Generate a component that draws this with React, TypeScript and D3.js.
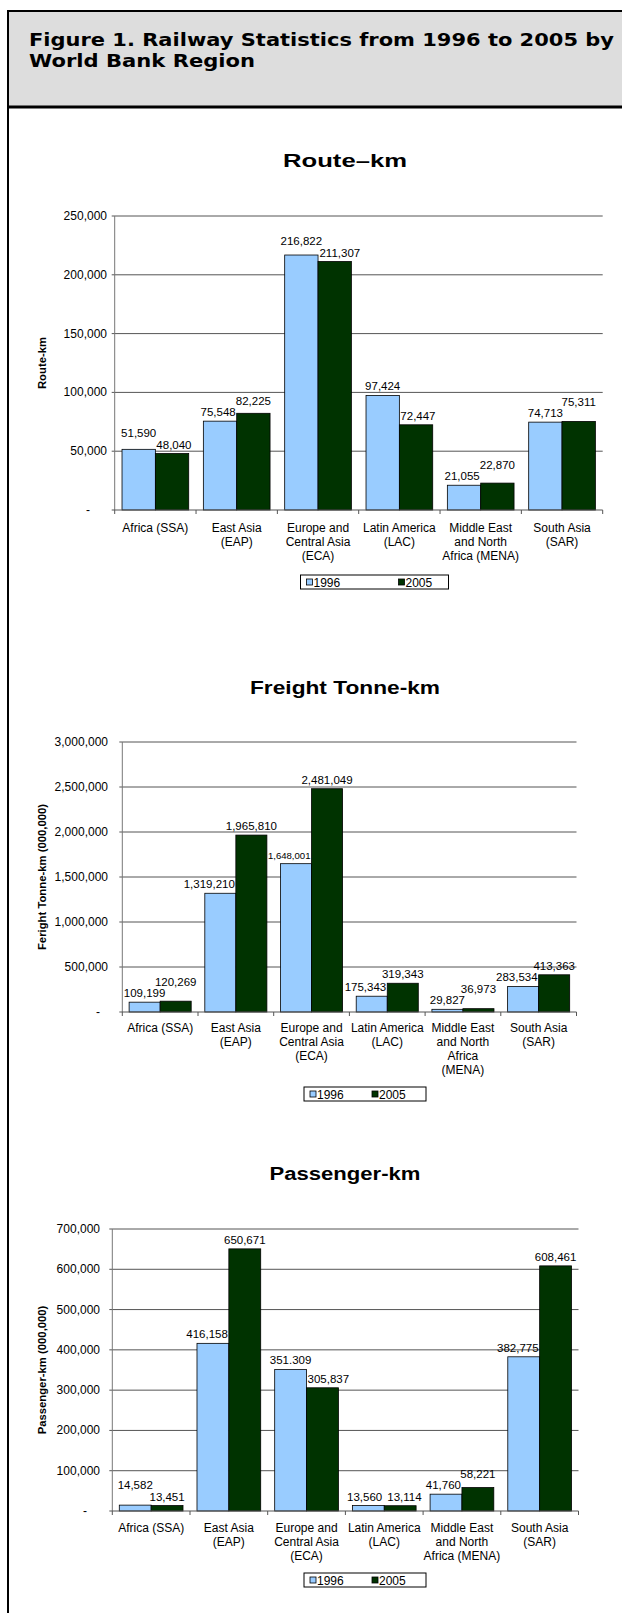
import * as d3 from 'd3';

// regions, in the order the charts show them
const categories = [
  'Africa (SSA)',
  'East Asia (EAP)',
  'Europe and Central Asia (ECA)',
  'Latin America (LAC)',
  'Middle East and North Africa (MENA)',
  'South Asia (SAR)',
];

// how each chart wraps the category names
const catLinesA = [
  ['Africa (SSA)'],
  ['East Asia', '(EAP)'],
  ['Europe and', 'Central Asia', '(ECA)'],
  ['Latin America', '(LAC)'],
  ['Middle East', 'and North', 'Africa (MENA)'],
  ['South Asia', '(SAR)'],
];
const catLinesB = [
  ['Africa (SSA)'],
  ['East Asia', '(EAP)'],
  ['Europe and', 'Central Asia', '(ECA)'],
  ['Latin America', '(LAC)'],
  ['Middle East', 'and North', 'Africa', '(MENA)'],
  ['South Asia', '(SAR)'],
];

const years = ['1996', '2005'];

const route1996 = [51590, 75548, 216822, 97424, 21055, 74713];
const route2005 = [48040, 82225, 211307, 72447, 22870, 75311];
const routeTicks = [0, 50000, 100000, 150000, 200000, 250000];

const freight1996 = [109199, 1319210, 1648001, 175343, 29827, 283534];
const freight2005 = [120269, 1965810, 2481049, 319343, 36973, 413363];
const freightTicks = [0, 500000, 1000000, 1500000, 2000000, 2500000, 3000000];

const passenger1996 = [14582, 416158, 351309, 13560, 41760, 382775];
const passenger2005 = [13451, 650671, 305837, 13114, 58221, 608461];
const passengerTicks = [0, 100000, 200000, 300000, 400000, 500000, 600000, 700000];
// the source prints one label with a dot
const passenger1996Text = ['14,582', '416,158', '351.309', '13,560', '41,760', '382,775'];

const colors = ['#99ccff', '#003300'];
const fmt = d3.format(',');
const FONT = '"Liberation Sans", Arial, sans-serif';
const LABEL_SIZE = 11.5;

// rough Arial width of a number label, in em
const labelEm = (s: string) =>
  s.split('').reduce((w, ch) => w + (/[0-9]/.test(ch) ? 0.556 : 0.278), 0);

interface Layout {
  titleY: number;
  titleW: number;
  top: number;
  bottom: number;
  left: number;
  right: number;
  tickRight: number;
  dashX: number;
  catY: number;
  legendX: number;
  legendY: number;
  legendW: number;
  legendPad: number;
  legendGap: number;
}

interface ChartProps {
  layout: Layout;
  title: string;
  yTitle: string;
  ticks: number[];
  series: number[][];
  labels: string[][];
  catLines: string[][];
}

function BarChart({ layout, title, yTitle, ticks, series, labels, catLines }: ChartProps) {
  const L = layout;
  const x0 = d3.scaleBand<string>()
    .domain(categories)
    .range([L.left, L.right])
    .paddingInner(0.18)
    .paddingOuter(0.09);
  const x1 = d3.scaleBand<string>().domain(years).range([0, x0.bandwidth()]);
  const y = d3.scaleLinear().domain([0, ticks[ticks.length - 1]]).range([L.bottom, L.top]);
  const step = x0.step();
  const bw = x1.bandwidth();

  // labels sit above their bar; two that collide are stacked, a label
  // that runs into the neighbouring bar is slid away from it, and one
  // squeezed between two tall bars is set smaller
  const placeLabels = (i: number) => {
    const gx = x0(categories[i])!;
    const mid = gx + bw;
    const tops = series.map(s => y(s[i]));
    const base = tops.map(t => t - 5);
    const anchors = ['middle', 'middle'];
    const xs = [gx + bw / 2, gx + bw * 1.5];
    const sizes = [LABEL_SIZE, LABEL_SIZE];
    if (Math.abs(base[0] - base[1]) < 11.5) {
      if (Math.abs(tops[0] - tops[1]) < 0.3) {
        anchors[0] = 'end';
        anchors[1] = 'start';
        xs[0] = mid - 2;
        xs[1] = mid + 3;
        return { base, anchors, xs, sizes };
      } else if (tops[0] < tops[1]) {
        base[0] = base[1] - 11.5;
      } else {
        base[1] = base[0] - 11.5;
      }
    }
    const em0 = labelEm(labels[0][i]);
    const em1 = labelEm(labels[1][i]);
    if (base[0] + 3 > tops[1] && xs[0] + (em0 * LABEL_SIZE) / 2 > mid - 1) {
      const right = mid - 1;
      if (i > 0 && base[0] + 3 > y(series[1][i - 1])) {
        const room = right - (x0(categories[i - 1])! + 2 * bw + 1);
        sizes[0] = Math.min(LABEL_SIZE, room / em0);
      }
      xs[0] = right - (em0 * sizes[0]) / 2;
    }
    if (base[1] + 3 > tops[0] && xs[1] - (em1 * LABEL_SIZE) / 2 < mid + 1) {
      const left = mid + 1;
      if (i < categories.length - 1 && base[1] + 3 > y(series[0][i + 1])) {
        const room = x0(categories[i + 1])! - 1 - left;
        sizes[1] = Math.min(LABEL_SIZE, room / em1);
      }
      xs[1] = left + (em1 * sizes[1]) / 2;
    }
    return { base, anchors, xs, sizes };
  };

  return (
    <g fontFamily={FONT}>
      <text
        x={345}
        y={L.titleY}
        textAnchor="middle"
        fontSize={17.5}
        fontWeight="bold"
        fill="#000"
        textLength={L.titleW}
        lengthAdjust="spacingAndGlyphs"
      >
        {title}
      </text>

      {/* gridlines and y ticks */}
      {ticks.map(t => (
        <g key={t}>
          {t > 0 && (
            <line x1={L.left - 3} x2={L.right} y1={y(t)} y2={y(t)} stroke="#555" strokeWidth={1} />
          )}
          <text
            x={t === 0 ? L.dashX : L.tickRight}
            y={y(t) + 4}
            textAnchor={t === 0 ? 'middle' : 'end'}
            fontSize={12}
            fill="#000"
          >
            {t === 0 ? '-' : fmt(t)}
          </text>
        </g>
      ))}

      {/* bars */}
      {categories.map((c, i) => (
        <g key={c}>
          {series.map((s, k) => (
            <rect
              key={k}
              x={x0(c)! + x1(years[k])!}
              y={y(s[i])}
              width={bw}
              height={y(0) - y(s[i])}
              fill={colors[k]}
              stroke="#000"
              strokeWidth={0.8}
            />
          ))}
        </g>
      ))}

      {/* axes */}
      <line x1={L.left} x2={L.left} y1={L.top} y2={L.bottom} stroke="#777" />
      <line x1={L.left - 3} x2={L.right} y1={L.bottom} y2={L.bottom} stroke="#555" />
      {d3.range(categories.length + 1).map(j => (
        <line
          key={j}
          x1={L.left + j * step}
          x2={L.left + j * step}
          y1={L.bottom}
          y2={L.bottom + 4}
          stroke="#555"
        />
      ))}

      {/* data labels */}
      {categories.map((c, i) => {
        const p = placeLabels(i);
        return (
          <g key={c}>
            {series.map((_, k) => (
              <text
                key={k}
                x={p.xs[k]}
                y={p.base[k]}
                textAnchor={p.anchors[k]}
                fontSize={p.sizes[k]}
                fill="#000"
              >
                {labels[k][i]}
              </text>
            ))}
          </g>
        );
      })}

      {/* category labels */}
      {categories.map((c, i) => (
        <text key={c} textAnchor="middle" fontSize={12} fill="#000">
          {catLines[i].map((ln, j) => (
            <tspan key={j} x={x0(c)! + x0.bandwidth() / 2} y={L.catY + j * 14}>
              {ln}
            </tspan>
          ))}
        </text>
      ))}

      {/* y title */}
      <text
        transform={`translate(46,${(L.top + L.bottom) / 2}) rotate(-90)`}
        textAnchor="middle"
        fontSize={11.3}
        fontWeight="bold"
        fill="#000"
      >
        {yTitle}
      </text>

      {/* legend */}
      <g transform={`translate(${L.legendX},${L.legendY})`}>
        <rect x={0} y={0} width={L.legendW} height={14} fill="#fff" stroke="#000" strokeWidth={1} />
        {years.map((yr, k) => (
          <g key={yr} transform={`translate(${L.legendPad + k * L.legendGap},0)`}>
            <rect x={0} y={4} width={6} height={6} fill={colors[k]} stroke="#000" strokeWidth={0.8} />
            <text x={7} y={11.5} fontSize={12} fill="#000">
              {yr}
            </text>
          </g>
        ))}
      </g>
    </g>
  );
}

const layoutRoute: Layout = {
  titleY: 167, titleW: 124, top: 216, bottom: 510, left: 114.7, right: 602.7,
  tickRight: 107, dashX: 88, catY: 532,
  legendX: 300.5, legendY: 575, legendW: 148, legendPad: 6, legendGap: 92,
};
const layoutFreight: Layout = {
  titleY: 694, titleW: 190, top: 742, bottom: 1012, left: 122.3, right: 576.5,
  tickRight: 108, dashX: 98, catY: 1032,
  legendX: 304, legendY: 1087, legendW: 122, legendPad: 6, legendGap: 62,
};
const layoutPassenger: Layout = {
  titleY: 1180, titleW: 151, top: 1229, bottom: 1511, left: 112.3, right: 578.5,
  tickRight: 100, dashX: 85, catY: 1532,
  legendX: 304, legendY: 1573, legendW: 122, legendPad: 6, legendGap: 62,
};

export default function App() {
  return (
    <svg
      width={622}
      height={1613}
      style={{ position: 'absolute', left: 0, top: 0, background: '#fff' }}
    >
      {/* frame and header */}
      <rect x={8} y={11} width={640} height={1640} fill="#fff" stroke="#000" strokeWidth={2} />
      <rect x={9} y={12} width={640} height={94} fill="#dddddd" />
      <line x1={8} x2={640} y1={107} y2={107} stroke="#000" strokeWidth={3} />
      <g fontFamily='"DejaVu Sans", Verdana, sans-serif' fontWeight="bold" fontSize={18} fill="#000">
        <text x={29} y={46} textLength={585} lengthAdjust="spacingAndGlyphs">
          Figure 1. Railway Statistics from 1996 to 2005 by
        </text>
        <text x={29} y={67} textLength={226} lengthAdjust="spacingAndGlyphs">
          World Bank Region
        </text>
      </g>

      <BarChart
        layout={layoutRoute}
        title="Route–km"
        yTitle="Route-km"
        ticks={routeTicks}
        series={[route1996, route2005]}
        labels={[route1996.map(fmt), route2005.map(fmt)]}
        catLines={catLinesA}
      />
      <BarChart
        layout={layoutFreight}
        title="Freight Tonne-km"
        yTitle="Feright Tonne-km (000,000)"
        ticks={freightTicks}
        series={[freight1996, freight2005]}
        labels={[freight1996.map(fmt), freight2005.map(fmt)]}
        catLines={catLinesB}
      />
      <BarChart
        layout={layoutPassenger}
        title="Passenger-km"
        yTitle="Passenger-km (000,000)"
        ticks={passengerTicks}
        series={[passenger1996, passenger2005]}
        labels={[passenger1996Text, passenger2005.map(fmt)]}
        catLines={catLinesA}
      />
    </svg>
  );
}
